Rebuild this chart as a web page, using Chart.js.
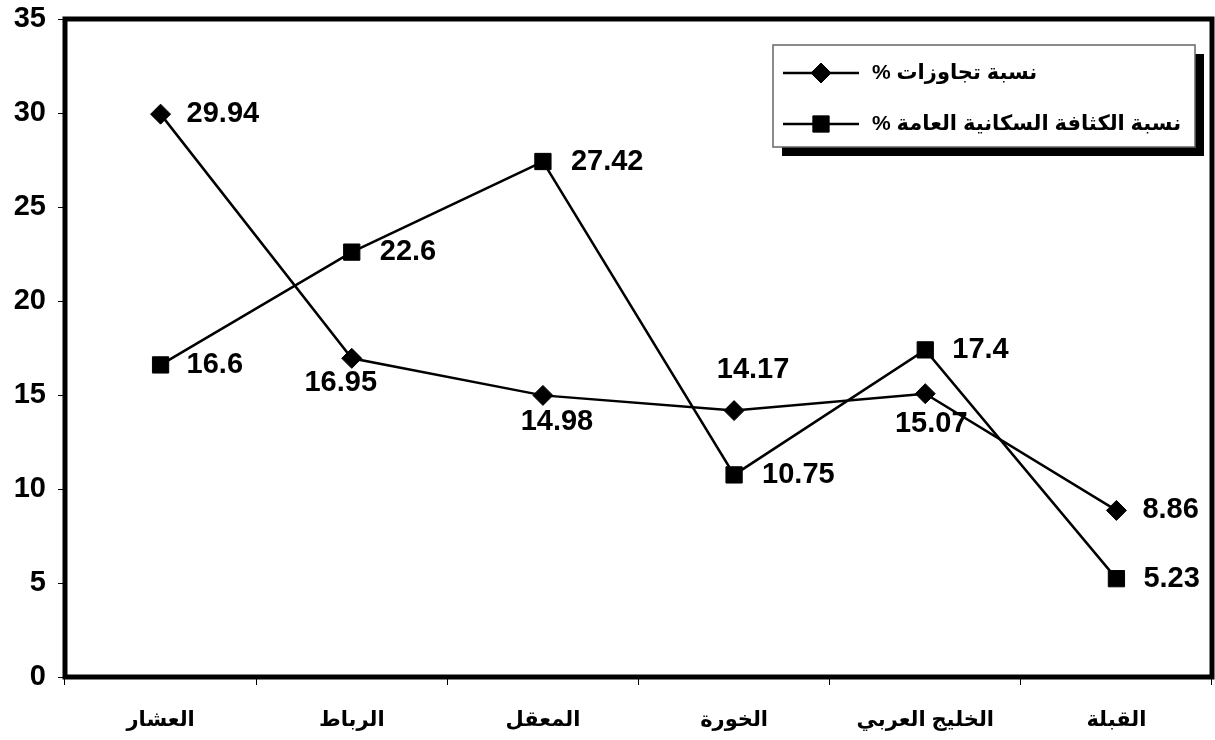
<!DOCTYPE html>
<html>
<head>
<meta charset="utf-8">
<script src="https://cdn.jsdelivr.net/npm/chart.js@4.4.1/dist/chart.umd.min.js"></script>
<style>
  html, body { margin: 0; padding: 0; background: #fff; overflow: hidden; }
  canvas { display: block; }
</style>
</head>
<body>
<canvas id="c" width="1215" height="740"></canvas>
<script>
const categories = ['العشار', 'الرباط', 'المعقل', 'الخورة', 'الخليج العربي', 'القبلة'];
const violations = [29.94, 16.95, 14.98, 14.17, 15.07, 8.86];
const density = [16.6, 22.6, 27.42, 10.75, 17.4, 5.23];
const seriesNames = ['نسبة تجاوزات %', 'نسبة الكثافة السكانية العامة %'];

// value label offsets from each point: [dx, dy, align]
const violationsLabelAt = [[26, 0, 'left'], [-11, 25, 'center'], [14, 27, 'center'],
                           [19, -41, 'center'], [6, 30, 'center'], [26, 0, 'left']];
const densityLabelAt = [[26, 0, 'left'], [28, 0, 'left'], [28, 0, 'left'],
                        [28, 0, 'left'], [27, 0, 'left'], [27, 0, 'left']];

const FONT = "'Liberation Sans', Arial, 'DejaVu Sans', sans-serif";

const framePlugin = {
  id: 'frame',
  afterDatasetsDraw(chart) {
    const { ctx, chartArea: a } = chart;
    ctx.save();
    ctx.strokeStyle = '#000';
    ctx.lineWidth = 5;
    ctx.strokeRect(a.left, a.top, a.right - a.left, a.bottom - a.top);
    ctx.restore();
  }
};

const valueLabels = {
  id: 'valueLabels',
  afterDatasetsDraw(chart) {
    const { ctx } = chart;
    const placing = [violationsLabelAt, densityLabelAt];
    ctx.save();
    ctx.fillStyle = '#000';
    ctx.font = 'bold 29px ' + FONT;
    ctx.textBaseline = 'middle';
    chart.data.datasets.forEach((ds, i) => {
      chart.getDatasetMeta(i).data.forEach((pt, j) => {
        const [dx, dy, align] = placing[i][j];
        ctx.textAlign = align;
        ctx.fillText(String(ds.data[j]), pt.x + dx, pt.y + dy);
      });
    });
    ctx.restore();
  }
};

const boxLegend = {
  id: 'boxLegend',
  afterDraw(chart) {
    const { ctx } = chart;
    const x = 773, y = 45, w = 422, h = 102;
    ctx.save();
    ctx.fillStyle = '#000';
    ctx.fillRect(x + 9, y + 9, w, h);
    ctx.fillStyle = '#fff';
    ctx.fillRect(x, y, w, h);
    ctx.strokeStyle = '#666';
    ctx.lineWidth = 1.5;
    ctx.strokeRect(x, y, w, h);
    const rows = [y + 28, y + 79];
    chart.data.datasets.forEach((ds, i) => {
      const ry = rows[i];
      ctx.strokeStyle = '#000';
      ctx.lineWidth = 2.5;
      ctx.beginPath();
      ctx.moveTo(x + 10, ry);
      ctx.lineTo(x + 86, ry);
      ctx.stroke();
      ctx.fillStyle = '#000';
      ctx.lineWidth = 1;
      Chart.helpers.drawPoint(ctx, {
        pointStyle: ds.pointStyle,
        radius: ds.pointRadius,
        borderWidth: 1
      }, x + 48, ry);
      ctx.font = 'bold 21px ' + FONT;
      ctx.textAlign = 'left';
      ctx.textBaseline = 'middle';
      ctx.direction = 'rtl';
      ctx.fillText(ds.label, x + 99, ry);
      ctx.direction = 'ltr';
    });
    ctx.restore();
  }
};

new Chart(document.getElementById('c'), {
  type: 'line',
  data: {
    labels: categories,
    datasets: [
      {
        label: seriesNames[0],
        data: violations,
        borderColor: '#000',
        backgroundColor: '#000',
        borderWidth: 2.5,
        pointStyle: 'rectRot',
        pointRadius: 10,
        pointBorderWidth: 1,
        tension: 0
      },
      {
        label: seriesNames[1],
        data: density,
        borderColor: '#000',
        backgroundColor: '#000',
        borderWidth: 2.5,
        pointStyle: 'rect',
        pointRadius: 11.5,
        pointBorderWidth: 1,
        tension: 0
      }
    ]
  },
  options: {
    responsive: false,
    animation: false,
    layout: { autoPadding: false, padding: { top: 19, right: 3, left: 0, bottom: 0 } },
    plugins: {
      legend: { display: false },
      tooltip: { enabled: false }
    },
    scales: {
      x: {
        offset: true,
        grid: {
          offset: true,
          drawOnChartArea: false,
          drawTicks: true,
          tickLength: 8,
          color: '#000',
          lineWidth: 1
        },
        border: { display: false },
        ticks: {
          color: '#000',
          font: { family: FONT, size: 21, weight: 'bold' },
          padding: 23,
          maxRotation: 0
        },
        afterFit(s) { s.height = 63; s.paddingLeft = 0; s.paddingRight = 0; }
      },
      y: {
        min: 0,
        max: 35,
        ticks: {
          stepSize: 5,
          color: '#000',
          font: { family: FONT, size: 29, weight: 'bold' },
          padding: 12
        },
        grid: {
          drawOnChartArea: false,
          drawTicks: true,
          tickLength: 7,
          color: '#000',
          lineWidth: 1
        },
        border: { display: false },
        afterFit(s) { s.width = 65; s.paddingTop = 0; s.paddingBottom = 0; }
      }
    }
  },
  plugins: [framePlugin, valueLabels, boxLegend]
});
</script>
</body>
</html>
